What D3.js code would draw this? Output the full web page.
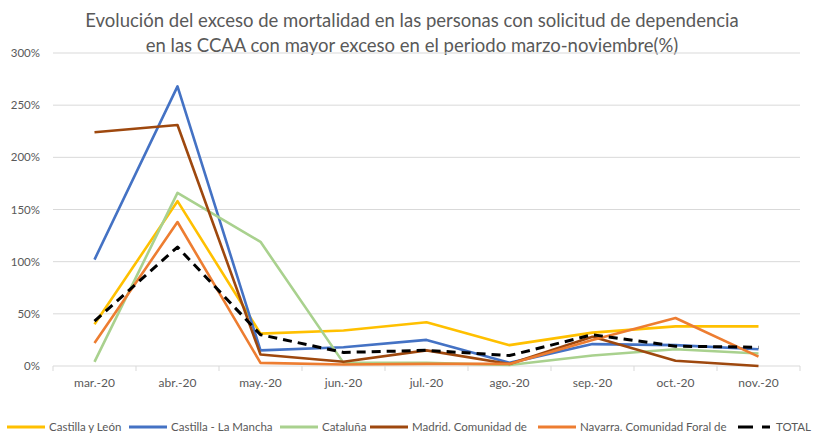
<!DOCTYPE html>
<html>
<head>
<meta charset="utf-8">
<script src="https://cdn.jsdelivr.net/npm/d3@7"></script>
<style>
  body { margin: 0; background: #fff; }
  svg text { font-family: Lato, "Open Sans", sans-serif; fill: #595959; }
</style>
</head>
<body>
<svg width="816" height="435"></svg>
<script>
var months = ["mar.-20", "abr.-20", "may.-20", "jun.-20", "jul.-20", "ago.-20", "sep.-20", "oct.-20", "nov.-20"];
var yTicks = [0, 50, 100, 150, 200, 250, 300];

var castillaLeon   = [40, 158, 31, 34, 42, 20, 32, 38, 38];
var castillaMancha = [102, 268, 15, 18, 25, 3, 21, 20, 16];
var cataluna       = [4, 166, 119, 3, 3, 1, 10, 16, 12];
var madrid         = [224, 231, 11, 4, 15, 2, 28, 5, 0];
var navarra        = [22, 138, 3, 1.5, 2, 2, 25, 46, 9];
var total          = [43, 114, 30, 13, 15, 10, 30, 19, 18];

var seriesNames  = ["Castilla y León", "Castilla - La Mancha", "Cataluña", "Madrid. Comunidad de", "Navarra. Comunidad Foral de", "TOTAL"];
var seriesColors = ["#FFC000", "#4472C4", "#A9D18E", "#9E480E", "#ED7D31", "#000000"];

var series = [castillaLeon, castillaMancha, cataluna, madrid, navarra, total].map(function(v, i) {
    return { name: seriesNames[i], color: seriesColors[i], values: v, dashed: i == 5 };
});

var svg = d3.select("svg");

var x = d3.scaleBand().domain(months).range([53, 800]);
var y = d3.scaleLinear().domain([0, 300]).range([366, 53]);

// title
svg.append("text")
    .attr("x", 412).attr("y", 27)
    .attr("text-anchor", "middle")
    .style("font-size", "18.5px")
    .text("Evolución del exceso de mortalidad en las personas con solicitud de dependencia");
svg.append("text")
    .attr("x", 412).attr("y", 52)
    .attr("text-anchor", "middle")
    .style("font-size", "18.5px")
    .text("en las CCAA con mayor exceso en el periodo marzo-noviembre(%)");

// gridlines
svg.append("g")
    .selectAll("line")
    .data(yTicks)
    .enter()
  .append("line")
    .attr("x1", 53).attr("x2", 800)
    .attr("y1", function(d) { return y(d); })
    .attr("y2", function(d) { return y(d); })
    .style("stroke", "#d9d9d9")
    .style("stroke-width", 1);

// y labels
svg.append("g")
    .selectAll("text")
    .data(yTicks)
    .enter()
  .append("text")
    .attr("x", 40)
    .attr("y", function(d) { return y(d) + 4; })
    .attr("text-anchor", "end")
    .style("font-size", "11.5px")
    .text(function(d) { return d + "%"; });

// x axis ticks at band edges
var edges = months.map(function(m) { return x(m); }).concat([800]);
svg.append("g")
    .selectAll("line")
    .data(edges)
    .enter()
  .append("line")
    .attr("x1", function(d) { return d; })
    .attr("x2", function(d) { return d; })
    .attr("y1", 366).attr("y2", 371)
    .style("stroke", "#d9d9d9");

svg.append("g")
    .selectAll("text")
    .data(months)
    .enter()
  .append("text")
    .attr("x", function(d) { return x(d) + x.bandwidth() / 2; })
    .attr("y", 387)
    .attr("text-anchor", "middle")
    .style("font-size", "12px")
    .text(function(d) { return d; });

// lines
var line = d3.line()
    .x(function(d, i) { return x(months[i]) + x.bandwidth() / 2; })
    .y(function(d) { return y(d); });

svg.append("g")
    .selectAll("path")
    .data(series)
    .enter()
  .append("path")
    .attr("d", function(d) { return line(d.values); })
    .style("fill", "none")
    .style("stroke", function(d) { return d.color; })
    .style("stroke-width", function(d) { return d.dashed ? 3 : 2.6; })
    .style("stroke-dasharray", function(d) { return d.dashed ? "9,6" : null; })
    .style("stroke-linejoin", "round");

// legend
var legendX = [7, 129, 280, 370, 538, 738];
var legend = svg.append("g")
    .selectAll("g")
    .data(series)
    .enter()
  .append("g")
    .attr("transform", function(d, i) { return "translate(" + legendX[i] + ",427)"; });

legend.append("line")
    .attr("x1", 0).attr("x2", function(d) { return d.dashed ? 32 : 38; })
    .attr("y1", 0).attr("y2", 0)
    .style("stroke", function(d) { return d.color; })
    .style("stroke-width", 3)
    .style("stroke-dasharray", function(d) { return d.dashed ? "15,9" : null; });

legend.append("text")
    .attr("x", function(d) { return d.dashed ? 38 : 42; })
    .attr("y", 4)
    .style("font-size", "11.5px")
    .text(function(d) { return d.name; });
</script>
</body>
</html>
